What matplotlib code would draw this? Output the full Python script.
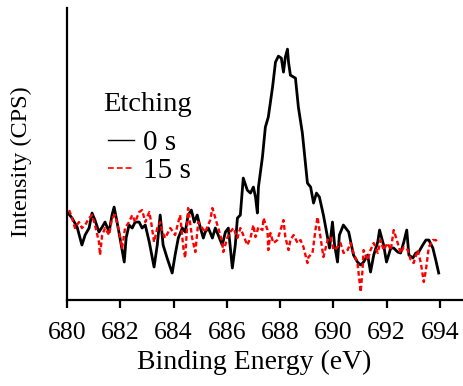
import matplotlib
matplotlib.use("Agg")
import matplotlib.pyplot as plt
from matplotlib.lines import Line2D

plt.rcParams['font.family'] = ['Liberation Serif', 'DejaVu Serif']

# Etching 0 s (black)
be_0s = [680.04, 680.19, 680.38, 680.56, 680.68, 680.83, 680.94, 681.05, 681.20, 681.32,
         681.43, 681.58, 681.69, 681.77, 681.88, 681.99, 682.15, 682.22, 682.33, 682.45,
         682.56, 682.71, 682.82, 682.94, 683.09, 683.27, 683.39, 683.50, 683.61, 683.76,
         683.95, 684.06, 684.18, 684.33, 684.44, 684.55, 684.67, 684.78, 684.89, 685.01,
         685.12, 685.19, 685.31, 685.46, 685.57, 685.68, 685.83, 685.95, 686.06, 686.21,
         686.32, 686.40, 686.51, 686.62, 686.77, 686.89, 687.00, 687.08, 687.15, 687.19,
         687.34, 687.45, 687.56, 687.72, 687.83, 687.94, 688.05, 688.13, 688.20, 688.28,
         688.32, 688.39, 688.58, 688.69, 688.84, 689.03, 689.15, 689.26, 689.37, 689.48,
         689.63, 689.79, 689.86, 689.97, 690.05, 690.16, 690.23, 690.38, 690.58, 690.76,
         690.91, 691.03, 691.14, 691.29, 691.40, 691.52, 691.67, 691.74, 691.89, 692.00,
         692.16, 692.27, 692.42, 692.53, 692.65, 692.76, 692.84, 692.99, 693.10, 693.21,
         693.36, 693.48, 693.59, 693.74, 693.85, 693.96]
cps_0s = [87, 82, 73, 55, 65, 72, 87, 80, 68, 73,
          78, 68, 85, 93, 78, 62, 38, 62, 75, 72,
          78, 78, 72, 75, 58, 33, 55, 85, 55, 42,
          27, 45, 62, 72, 68, 85, 90, 78, 85, 72,
          62, 68, 72, 62, 72, 65, 55, 68, 72, 32,
          55, 82, 85, 122, 110, 107, 113, 103, 87, 113,
          143, 173, 183, 213, 238, 244, 242, 228, 243, 251,
          238, 225, 222, 193, 167, 117, 113, 97, 107, 103,
          85, 62, 52, 78, 55, 38, 65, 75, 68, 45,
          38, 35, 38, 45, 28, 45, 58, 70, 55, 38,
          52, 52, 48, 47, 58, 70, 45, 42, 47, 48,
          55, 60, 60, 52, 40, 27]

# Etching 15 s (red dashed)
be_15s = [680.08, 680.19, 680.30, 680.45, 680.56, 680.68, 680.83, 680.94, 681.05, 681.20,
          681.24, 681.32, 681.43, 681.58, 681.69, 681.81, 681.96, 682.07, 682.18, 682.33,
          682.45, 682.56, 682.71, 682.82, 682.94, 683.09, 683.16, 683.27, 683.39, 683.50,
          683.58, 683.69, 683.88, 684.06, 684.18, 684.25, 684.37, 684.44, 684.55, 684.70,
          684.82, 684.93, 685.08, 685.19, 685.38, 685.46, 685.57, 685.68, 685.83, 685.87,
          686.02, 686.13, 686.25, 686.40, 686.51, 686.62, 686.77, 686.89, 687.00, 687.08,
          687.19, 687.34, 687.38, 687.53, 687.56, 687.64, 687.75, 687.90, 688.02, 688.13,
          688.20, 688.32, 688.39, 688.51, 688.66, 688.77, 688.88, 689.03, 689.07, 689.22,
          689.33, 689.41, 689.52, 689.63, 689.79, 689.90, 690.01, 690.16, 690.27, 690.39,
          690.54, 690.65, 690.76, 690.91, 691.03, 691.10, 691.14, 691.29, 691.40, 691.52,
          691.67, 691.78, 691.89, 692.04, 692.16, 692.27, 692.42, 692.53, 692.65, 692.80,
          692.91, 693.02, 693.17, 693.29, 693.40, 693.48, 693.59, 693.74, 693.85, 693.93]
cps_15s = [90, 82, 72, 78, 72, 75, 82, 85, 75, 58,
           45, 65, 72, 65, 82, 85, 68, 52, 72, 78,
           85, 78, 88, 90, 78, 88, 78, 58, 72, 78,
           68, 62, 72, 65, 78, 85, 52, 42, 92, 62,
           48, 78, 72, 68, 80, 92, 82, 72, 58, 48,
           62, 68, 72, 62, 72, 65, 55, 62, 75, 63,
           73, 70, 82, 70, 50, 67, 57, 60, 70, 80,
           63, 50, 60, 65, 57, 60, 53, 37, 43, 47,
           70, 83, 63, 43, 60, 63, 50, 53, 57, 47,
           50, 57, 47, 37, 8, 30, 50, 40, 50, 57,
           47, 60, 50, 57, 50, 70, 57, 47, 53, 50,
           40, 37, 50, 37, 18, 30, 53, 60, 60, 57]

series_labels = ['0 s', '15 s']
legend_title = 'Etching'

fig = plt.figure(figsize=(4.64, 3.86), dpi=100)
ax = fig.add_axes([0.1444, 0.2228, 0.855, 0.756])

ax.plot(be_0s, cps_0s, color='black', lw=2.0)
ax.plot(be_15s, cps_15s, color='red', lw=1.7, ls=(0, (2, 1.2)))

ax.set_xlim(680, 694.9)
ax.set_ylim(0, 292)
ax.set_xticks([680, 682, 684, 686, 688, 690, 692, 694])
ax.set_yticks([])
ax.spines['top'].set_visible(False)
ax.spines['right'].set_visible(False)
ax.spines['left'].set_linewidth(1.6)
ax.spines['bottom'].set_linewidth(1.6)
ax.tick_params(axis='x', direction='out', length=6, width=1.6, labelsize=18.5, pad=10)

ax.set_xlabel('Binding Energy (eV)', fontsize=20, labelpad=4)
ax.xaxis.label.set_x(0.472)
ax.set_ylabel('Intensity (CPS)', fontsize=17.5)
ax.yaxis.set_label_coords(-0.087, 0.473)

# legend: title as separate text, thin handles
fig.text(0.222, 0.728, legend_title, fontsize=20.5, ha='left', va='center')
handles = [Line2D([], [], color='black', lw=1.0),
           Line2D([], [], color='red', lw=1.2, ls=(0, (3.5, 1.8)))]
ax.legend(handles, series_labels, loc='upper left', bbox_to_anchor=(0.233, 0.663),
          bbox_transform=fig.transFigure, frameon=False, fontsize=21,
          handlelength=0.9, handletextpad=0.3, labelspacing=0.05, borderpad=0,
          borderaxespad=0)

fig.savefig('out.png', dpi=100)
